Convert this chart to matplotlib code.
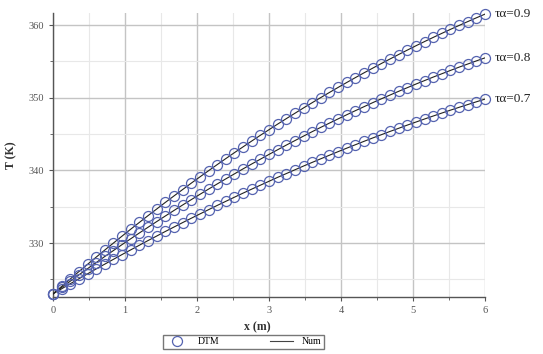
import matplotlib.pyplot as plt
from matplotlib.ticker import MultipleLocator
from matplotlib.lines import Line2D

# x positions of the computed points (m)
x_m = [0.00, 0.12, 0.24, 0.36, 0.48, 0.60, 0.72, 0.84, 0.96, 1.08,
       1.20, 1.32, 1.44, 1.56, 1.68, 1.80, 1.92, 2.04, 2.16, 2.28,
       2.40, 2.52, 2.64, 2.76, 2.88, 3.00, 3.12, 3.24, 3.36, 3.48,
       3.60, 3.72, 3.84, 3.96, 4.08, 4.20, 4.32, 4.44, 4.56, 4.68,
       4.80, 4.92, 5.04, 5.16, 5.28, 5.40, 5.52, 5.64, 5.76, 5.88, 6.00]

# temperature (K) for each tau*alpha value
t_09 = [323.00, 324.03, 325.05, 326.07, 327.07, 328.06, 329.04, 330.00, 330.96, 331.91,
        332.84, 333.77, 334.68, 335.59, 336.48, 337.36, 338.24, 339.10, 339.95, 340.79,
        341.62, 342.44, 343.24, 344.04, 344.83, 345.60, 346.37, 347.12, 347.86, 348.60,
        349.32, 350.03, 350.73, 351.42, 352.10, 352.77, 353.43, 354.07, 354.71, 355.33,
        355.95, 356.55, 357.15, 357.73, 358.30, 358.86, 359.41, 359.95, 360.48, 361.00, 361.51]
t_08 = [323.00, 323.88, 324.75, 325.62, 326.47, 327.31, 328.15, 328.97, 329.79, 330.59,
        331.39, 332.17, 332.95, 333.72, 334.48, 335.23, 335.97, 336.70, 337.42, 338.13,
        338.83, 339.52, 340.21, 340.88, 341.54, 342.20, 342.84, 343.48, 344.10, 344.72,
        345.33, 345.93, 346.51, 347.09, 347.66, 348.22, 348.77, 349.32, 349.85, 350.37,
        350.88, 351.38, 351.88, 352.36, 352.84, 353.30, 353.76, 354.21, 354.64, 355.07, 355.49]
t_07 = [323.00, 323.70, 324.40, 325.08, 325.76, 326.44, 327.10, 327.76, 328.42, 329.06,
        329.70, 330.34, 330.96, 331.59, 332.20, 332.81, 333.41, 334.00, 334.59, 335.17,
        335.74, 336.31, 336.87, 337.42, 337.96, 338.50, 339.04, 339.56, 340.08, 340.60,
        341.10, 341.60, 342.09, 342.58, 343.06, 343.53, 344.00, 344.46, 344.91, 345.36,
        345.79, 346.23, 346.65, 347.07, 347.48, 347.89, 348.29, 348.68, 349.06, 349.44, 349.81]

series = [(t_09, 'τα=0.9'), (t_08, 'τα=0.8'), (t_07, 'τα=0.7')]

plt.rcParams['font.family'] = ['Liberation Serif', 'DejaVu Serif']

fig = plt.figure(figsize=(5.43, 3.54), dpi=100)
ax = fig.add_axes([0.0976, 0.161, 0.7956, 0.802])

marker_col = '#5563b0'
for temps, label in series:
    ax.plot(x_m, temps, color='#222222', lw=0.8, zorder=3)
    ax.plot(x_m, temps, ls='none', marker='o', ms=7.2, mfc='none',
            mec=marker_col, mew=0.9, zorder=4, clip_on=False)
    ax.text(6.14, temps[-1], label, fontsize=9.5, va='center', ha='left',
            color='#222222', clip_on=False)

ax.set_xlim(0, 6)
ax.set_ylim(322.57, 361.65)
ax.xaxis.set_major_locator(MultipleLocator(1))
ax.xaxis.set_minor_locator(MultipleLocator(0.5))
ax.yaxis.set_major_locator(MultipleLocator(10))
ax.yaxis.set_minor_locator(MultipleLocator(5))

ax.grid(which='major', color='#c4c4c4', lw=1.0, zorder=0)
ax.grid(which='minor', color='#e8e8e8', lw=0.8, zorder=0)
ax.set_axisbelow(True)

for side in ['top', 'right']:
    ax.spines[side].set_visible(False)
for side in ['left', 'bottom']:
    ax.spines[side].set_color('#555555')
    ax.spines[side].set_linewidth(1.0)

ax.tick_params(which='both', direction='out', color='#555555', labelsize=7.5,
               labelcolor='#555555')
ax.tick_params(which='major', length=3)
ax.tick_params(which='minor', length=2)

ax.set_xlabel('x (m)', fontsize=8.5, fontweight='bold', color='#333333', labelpad=1)
ax.xaxis.set_label_coords(0.472, -0.085)
ax.set_ylabel('T (K)', fontsize=8.5, fontweight='bold', color='#333333')
ax.yaxis.set_label_coords(-0.082, 0.5)

handles = [Line2D([], [], ls='none', marker='o', ms=7.2, mfc='none', mec=marker_col, mew=0.9),
           Line2D([], [], color='#444444', lw=0.8)]
leg = fig.legend(handles, ['DTM', 'Num'], loc='center', bbox_to_anchor=(0.449, 0.034),
                 ncol=2, fontsize=7, frameon=True, fancybox=False, edgecolor='#777777',
                 columnspacing=5.2, handlelength=2.4, handletextpad=0.9,
                 borderpad=0.25, framealpha=1)
leg.get_frame().set_linewidth(1.0)

fig.savefig('out.png', dpi=100)
